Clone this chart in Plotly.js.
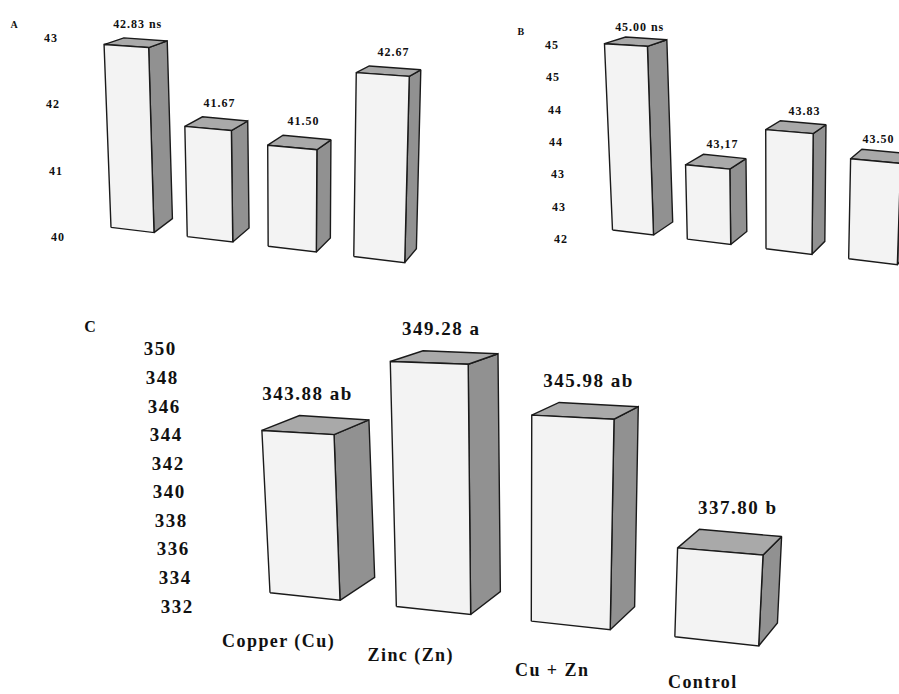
<!DOCTYPE html>
<html><head><meta charset="utf-8">
<script src="https://cdn.plot.ly/plotly-3.0.1.min.js"></script>
<style>
html,body{margin:0;padding:0;background:#fff}
#chart{width:899px;height:694px}
#chart .annotation-text{letter-spacing:0.08em}
</style>
</head><body><div id="chart"></div>
<script>
// ---------------- data ----------------
const categories = ['Copper (Cu)', 'Zinc (Zn)', 'Cu + Zn', 'Control'];

const valuesA = [42.83, 41.67, 41.50, 42.67];
const labelsA = ['42.83 ns', '41.67', '41.50', '42.67'];
const ticksA = [40, 41, 42, 43];
const tickTextA = ['40', '41', '42', '43'];

const valuesB = [45.00, 43.17, 43.83, 43.50];
const labelsB = ['45.00 ns', '43,17', '43.83', '43.50'];
const ticksB = [42, 42.5, 43, 43.5, 44, 44.5, 45];
const tickTextB = ['42', '43', '43', '44', '44', '45', '45'];

const valuesC = [343.88, 349.28, 345.98, 337.80];
const labelsC = ['343.88 ab', '349.28 a', '345.98 ab', '337.80 b'];
const ticksC = [332, 334, 336, 338, 340, 342, 344, 346, 348, 350];
const tickTextC = ['332', '334', '336', '338', '340', '342', '344', '346', '348', '350'];

// ---------------- layout / perspective settings ----------------
const W = 899, H = 694;
const FONT = 'Liberation Serif, Times New Roman, serif';
const FRONT = '#f3f3f3', TOP = '#a9a9a9', SIDE = '#919191', EDGE = '#1a1a1a';

const panels = [
  { sfx: '', values: valuesA, labels: labelsA, ticks: ticksA, tickText: tickTextA, base: 40,
    cx0: 132.5, yb0: 230, sp0: 77.5, spInc: 4.75, w0: 43, wg: 0.00075, tilt: 0.12,
    ky0: 65, kg: 0.00027, leanA: 0.000212, leanX: 290, dx0: 19, dxg: 0.027, dy0: -14, dyg: 0.04,
    labOff: -14, labDx0: 2, labDx1: 1, labSize: 12,
    tick: { px0: 58, pxs: -2.5, py0: 237, pys: 66.3, size: 12 },
    letter: { text: 'A', px: 15, py: 24, size: 10 } },
  { sfx: '2', values: valuesB, labels: labelsB, ticks: ticksB, tickText: tickTextB, base: 42,
    cx0: 633, yb0: 232.5, sp0: 76, spInc: 4, w0: 41, wg: 0.00078, tilt: 0.122,
    ky0: 62.5, kg: 0.00031, leanA: 0.000265, leanX: 775, dx0: 20, dxg: 0.04, dy0: -13, dyg: 0.034,
    labOff: -10, labDx0: 4, labDx1: 2.5, labSize: 12,
    tick: { px0: 561, pxs: -3.1, py0: 239, pys: 64.7, size: 12 },
    letter: { text: 'B', px: 521, py: 31, size: 10 } },
  { sfx: '3', values: valuesC, labels: labelsC, ticks: ticksC, tickText: tickTextC, base: 332,
    cx0: 305, yb0: 596.5, sp0: 128.5, spInc: 8.75, w0: 70, wg: 0.00048, tilt: 0.109,
    ky0: 13.8, kg: 0.0003, leanA: 0.0002, leanX: 520, dx0: 36, dxg: 0.038, dy0: -23, dyg: 0.05,
    labOff: -22, labDx0: -8, labDx1: 5.5, labSize: 19, cats: categories, catSize: 18,
    tick: { px0: 177, pxs: -0.89, py0: 606, pys: 14.28, size: 19 },
    letter: { text: 'C', px: 91, py: 326, size: 16 } }
];

// ---------------- build ----------------
const traces = [];
const annotations = [];
const layout = {
  width: W, height: H, margin: { l: 0, r: 0, t: 0, b: 0 },
  paper_bgcolor: '#fff', plot_bgcolor: 'rgba(0,0,0,0)', showlegend: false,
  annotations: annotations
};

panels.forEach((p, pi) => {
  const xa = 'x' + p.sfx, ya = 'y' + p.sfx;
  // axes: category units horizontally, value units vertically
  const toU = px => (px - p.cx0) / p.sp0;
  const toV = py => p.base + (p.yb0 - py) / p.ky0;
  const xKey = 'xaxis' + p.sfx, yKey = 'yaxis' + p.sfx;
  layout[xKey] = { domain: [0, 1], range: [toU(0), toU(W)], visible: false, fixedrange: true, anchor: ya };
  layout[yKey] = { domain: [0, 1], range: [toV(H), toV(0)], visible: false, fixedrange: true, anchor: xa };
  if (pi > 0) { layout[xKey].overlaying = 'x'; layout[yKey].overlaying = 'y'; }

  // perspective helpers (screen-space offsets of the receding row)
  const yb = x => p.yb0 + p.tilt * (x - p.cx0);
  const kyAt = x => p.ky0 * (1 + p.kg * (x - p.cx0));
  const lean = x => p.leanA * (x - p.leanX);
  const back = (P, hh) => [P[0] + p.dx0 - p.dxg * (P[0] - p.cx0), P[1] + p.dy0 + p.dyg * hh];
  const conv = pts => ({ x: pts.map(q => toU(q[0])), y: pts.map(q => toV(q[1])) });
  const face = (pts, color) => {
    const c = conv(pts.concat([pts[0]]));
    traces.push({ type: 'scatter', mode: 'lines', x: c.x, y: c.y, fill: 'toself', fillcolor: color,
      line: { color: EDGE, width: 1.4 }, xaxis: xa, yaxis: ya, hoverinfo: 'skip', showlegend: false });
  };

  p.values.forEach((v, i) => {
    const cx = p.cx0 + i * p.sp0 + p.spInc * i * (i - 1) / 2;
    const w = p.w0 * (1 + p.wg * (cx - p.cx0));
    const xl = cx - w / 2, xr = cx + w / 2;
    const hl = kyAt(xl) * (v - p.base), hr = kyAt(xr) * (v - p.base);
    const BL = [xl, yb(xl)], BR = [xr, yb(xr)];
    const TL = [xl + lean(xl) * hl, yb(xl) - hl];
    const TR = [xr + lean(xr) * hr, yb(xr) - hr];
    const TLb = back(TL, hl), TRb = back(TR, hr), BRb = back(BR, 0);
    face([BR, TR, TRb, BRb], SIDE);
    face([TL, TR, TRb, TLb], TOP);
    face([BL, BR, TR, TL], FRONT);

    // value label above the top face (kept inside the page)
    const halfW = p.labels[i].length * p.labSize * 0.31;
    const lx = Math.min((TL[0] + TRb[0]) / 2 + p.labDx0 + p.labDx1 * i, W - halfW - 2);
    const ly = Math.min(TLb[1], TRb[1]) + p.labOff;
    annotations.push({ xref: xa, yref: ya, x: toU(lx), y: toV(ly), text: p.labels[i], showarrow: false,
      xanchor: 'center', yanchor: 'middle', font: { family: FONT, size: p.labSize, color: '#111', weight: 'bold' } });

    if (p.cats) {
      const cxl = cx - 27 + 0.032 * (cx - p.cx0);
      const cyl = Math.min(yb(cx) + 45, H - 12);
      annotations.push({ xref: xa, yref: ya, x: toU(cxl), y: toV(cyl), text: p.cats[i], showarrow: false,
        xanchor: 'center', yanchor: 'middle', font: { family: FONT, size: p.catSize, color: '#111', weight: 'bold' } });
    }
  });

  // tick labels of the value axis
  p.ticks.forEach((t, k) => {
    const px = p.tick.px0 + p.tick.pxs * (t - p.base);
    const py = p.tick.py0 - p.tick.pys * (t - p.base);
    annotations.push({ xref: xa, yref: ya, x: toU(px), y: toV(py), text: p.tickText[k], showarrow: false,
      xanchor: 'center', yanchor: 'middle', font: { family: FONT, size: p.tick.size, color: '#111', weight: 'bold' } });
  });

  // panel letter
  annotations.push({ xref: xa, yref: ya, x: toU(p.letter.px), y: toV(p.letter.py), text: p.letter.text,
    showarrow: false, xanchor: 'center', yanchor: 'middle',
    font: { family: FONT, size: p.letter.size, color: '#111', weight: 'bold' } });
});

Plotly.newPlot('chart', traces, layout, { staticPlot: true, displayModeBar: false });
</script>
</body></html>
